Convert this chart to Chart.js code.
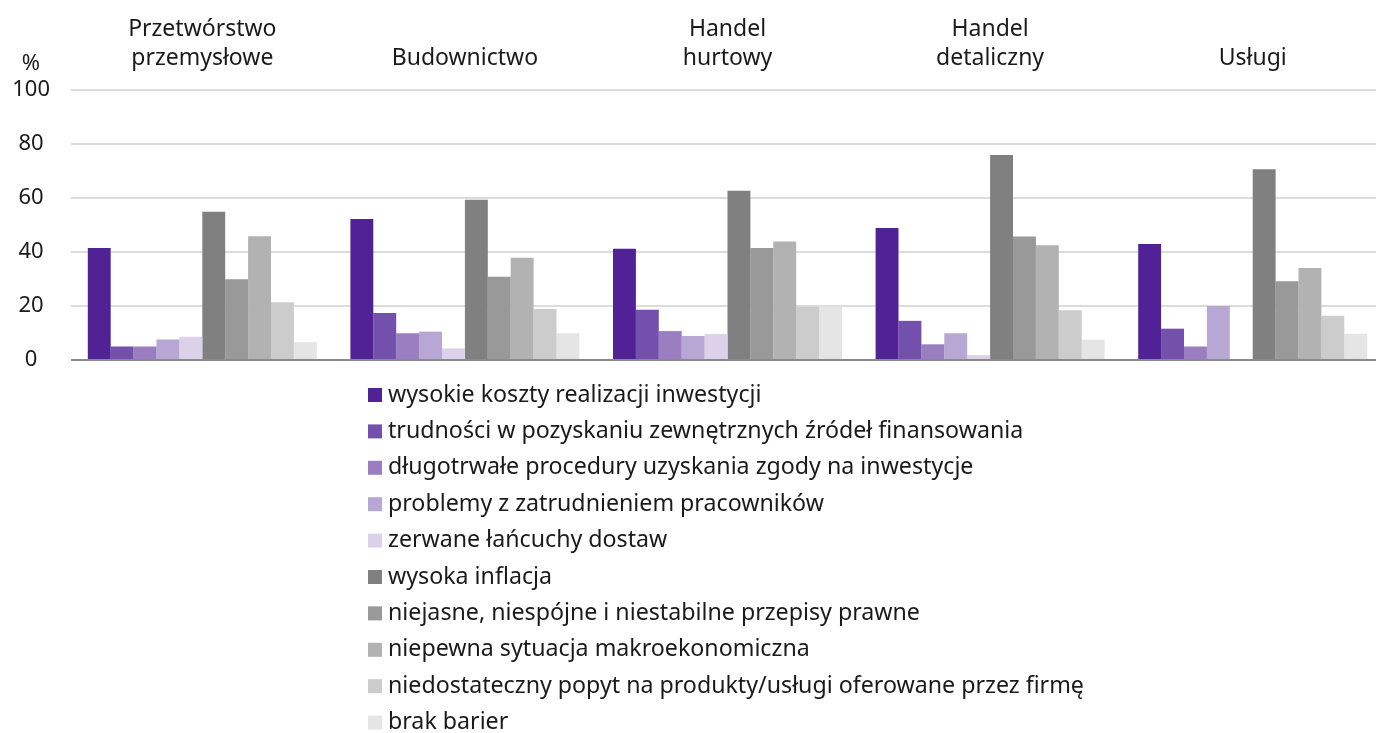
<!DOCTYPE html>
<html>
<head>
<meta charset="utf-8">
<script src="https://cdn.jsdelivr.net/npm/chart.js@4.4.1/dist/chart.umd.min.js"></script>
<style>
  html, body { margin: 0; padding: 0; background: #fff; overflow: hidden; }
  #wrap { width: 1384px; height: 733px; }
</style>
</head>
<body>
<div id="wrap"><canvas id="barriersChart"></canvas></div>
<script>
var categories = [['Przetwórstwo', 'przemysłowe'], 'Budownictwo', ['Handel', 'hurtowy'], ['Handel', 'detaliczny'], 'Usługi'];
var yTicks = [0, 20, 40, 60, 80, 100];

var seriesLabels = [
    'wysokie koszty realizacji inwestycji',
    'trudności w pozyskaniu zewnętrznych źródeł finansowania',
    'długotrwałe procedury uzyskania zgody na inwestycje',
    'problemy z zatrudnieniem pracowników',
    'zerwane łańcuchy dostaw',
    'wysoka inflacja',
    'niejasne, niespójne i niestabilne przepisy prawne',
    'niepewna sytuacja makroekonomiczna',
    'niedostateczny popyt na produkty/usługi oferowane przez firmę',
    'brak barier'
];
var seriesColors = ['#512295', '#7350ac', '#9a7ec0', '#b8a6d4', '#dbd2ea',
                    '#808080', '#999999', '#b2b2b2', '#cccccc', '#e5e5e5'];

// values in %, per series, in category order
var wysokieKoszty   = [41.5, 52.2, 41.2, 48.9, 43.0];
var trudnosciFinans = [5.0, 17.4, 18.6, 14.5, 11.6];
var procedury       = [5.0, 9.9, 10.7, 5.8, 5.0];
var zatrudnienie    = [7.6, 10.5, 8.9, 9.9, 20.0];
var lancuchyDostaw  = [8.6, 4.3, 9.6, 1.8, 0];
var inflacja        = [54.9, 59.3, 62.7, 75.9, 70.6];
var przepisy        = [29.9, 30.8, 41.5, 45.7, 29.2];
var sytuacjaMakro   = [45.8, 37.9, 43.9, 42.5, 34.1];
var popyt           = [21.4, 18.9, 19.7, 18.4, 16.4];
var brakBarier      = [6.6, 9.9, 19.7, 7.5, 9.7];

var seriesValues = [wysokieKoszty, trudnosciFinans, procedury, zatrudnienie, lancuchyDostaw,
                    inflacja, przepisy, sytuacjaMakro, popyt, brakBarier];

var FONT = '"Noto Sans", "Open Sans", sans-serif';
var TEXT = '#1a1a1a';

// legend as one column under the plot
var columnLegend = {
    id: 'columnLegend',
    afterDraw: function(chart) {
        var ctx = chart.ctx;
        ctx.save();
        ctx.font = '23.2px ' + FONT;
        ctx.textBaseline = 'middle';
        ctx.textAlign = 'left';
        chart.data.datasets.forEach(function(ds, i) {
            var y = 395 + i * 36.4;
            ctx.fillStyle = ds.backgroundColor;
            ctx.fillRect(368, y - 7, 14, 14);
            ctx.fillStyle = TEXT;
            ctx.fillText(ds.label, 388, y);
        });
        ctx.restore();
    }
};

// "%" unit over the y axis
var unitLabel = {
    id: 'unitLabel',
    afterDraw: function(chart) {
        var ctx = chart.ctx;
        ctx.save();
        ctx.font = '22px ' + FONT;
        ctx.fillStyle = TEXT;
        ctx.textAlign = 'center';
        ctx.textBaseline = 'middle';
        ctx.fillText('%', 31, 64);
        ctx.restore();
    }
};

document.addEventListener('DOMContentLoaded', function() {
    var ctx = document.getElementById('barriersChart').getContext('2d');
    var datasets = seriesLabels.map(function(label, i) {
        return {
            label: label,
            data: seriesValues[i],
            backgroundColor: seriesColors[i],
            borderWidth: 0,
            barPercentage: 1,
            categoryPercentage: 0.872
        };
    });

    new Chart(ctx, {
        type: 'bar',
        data: { labels: categories, datasets: datasets },
        plugins: [columnLegend, unitLabel],
        options: {
            responsive: true,
            maintainAspectRatio: false,
            animation: false,
            layout: { padding: { top: -2, right: 0, bottom: 373, left: 0 } },
            plugins: {
                legend: { display: false },
                tooltip: { enabled: false }
            },
            scales: {
                x: {
                    position: 'top',
                    grid: { display: false, drawTicks: false },
                    border: { display: false },
                    ticks: {
                        color: TEXT,
                        font: { family: FONT, size: 23, lineHeight: 1.26 },
                        padding: 17,
                        maxRotation: 0
                    }
                },
                y: {
                    min: 0,
                    max: 100,
                    afterBuildTicks: function(scale) {
                        scale.ticks = yTicks.map(function(v) { return { value: v }; });
                    },
                    afterFit: function(scale) { scale.width = 71; },
                    border: { display: false },
                    grid: {
                        drawTicks: false,
                        lineWidth: 2,
                        color: function(c) { return c.tick && c.tick.value === 0 ? '#8a8a8a' : '#dcdcdc'; }
                    },
                    ticks: {
                        color: TEXT,
                        font: { family: FONT, size: 22 },
                        padding: 21,
                        crossAlign: 'center'
                    }
                }
            }
        }
    });
});
</script>
</body>
</html>
